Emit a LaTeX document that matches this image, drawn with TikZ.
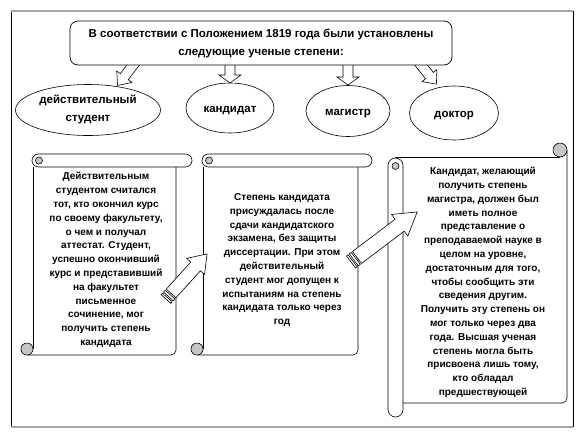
\documentclass[tikz,border=0pt]{standalone}
\usepackage{fontspec}
\setmainfont{Liberation Sans}
\usetikzlibrary{shapes.geometric}
\colorlet{curlgray}{gray!45}
\tikzset{
  scrl/.style={draw=black, line width=0.6pt},
  arrsty/.style={draw=black, fill=white, line width=0.6pt, line join=miter},
  oval/.style={ellipse, draw=black, line width=0.6pt, fill=white, inner sep=0pt},
  ovaltext/.style={align=center, inner sep=0pt, font=\fontsize{11.5}{18}\selectfont\bfseries},
  scrolltext/.style={align=center, inner sep=0pt, font=\fontsize{10}{13.8}\selectfont\bfseries},
  titlebox/.style={draw=black, line width=0.7pt, fill=white, rounded corners=8pt, align=center,
    font=\fontsize{11.5}{18}\selectfont\bfseries}
}
\newcommand{\myvscroll}[6]{% xL xR xRR yT yRb yB
  \fill[white] (#1,#5) rectangle (#2,#6);
  \draw[scrl] (#1,#5) -- (#1,{#6-6});
  \draw[scrl,rounded corners=5pt] ({#1-6},#6) -- (#2,#6) -- (#2,#5);
  \draw[scrl,fill=white,rounded corners=6.5pt] ({#1-1},#4) rectangle (#3,#5);
  \draw[scrl,fill=curlgray] ({#1+6},{(#4+#5)/2}) circle[radius=3.5];
  \draw[scrl,fill=curlgray] ({#1-6},{#6-6}) circle[radius=6];
}
\newcommand{\myblockarr}[7]{% tailx taily angle length shaftw headw headlen
  \begin{scope}[shift={(#1,#2)},rotate=#3]
    \draw[arrsty] (0,-#5) -- ({#4-#7},-#5) -- ({#4-#7},-#6) -- (#4,0) -- ({#4-#7},#6) -- ({#4-#7},#5) -- (0,#5) -- cycle;
  \end{scope}}
\newcommand{\mystripedarr}[7]{%
  \begin{scope}[shift={(#1,#2)},rotate=#3]
    \draw[arrsty] (0,-#5) rectangle (2,#5);
    \draw[arrsty] (3.5,-#5) rectangle (6,#5);
    \draw[arrsty] (7.5,-#5) -- ({#4-#7},-#5) -- ({#4-#7},-#6) -- (#4,0) -- ({#4-#7},#6) -- ({#4-#7},#5) -- (7.5,#5) -- cycle;
  \end{scope}}
\begin{document}
\begin{tikzpicture}[x=1pt,y=-1pt]
\useasboundingbox (0,0) rectangle (586,440);
\fill[white] (0,0) rectangle (586,440);
% outer frame
\draw[black, line width=0.6pt] (11,11) -- (11,427);
\draw[black, line width=0.6pt] (573,11) -- (573,427);
\draw[gray!70, line width=1.4pt] (11,11) -- (573,11);
\draw[gray!70, line width=1.4pt] (11,427) -- (573,427);

% ellipses
\node[oval, minimum width=145pt, minimum height=51pt] (e1) at (88,110) {};
\node[oval, minimum width=88pt, minimum height=50pt] (e2) at (230,108) {};
\node[oval, minimum width=84pt, minimum height=51pt] (e3) at (348,111) {};
\node[oval, minimum width=89pt, minimum height=54pt] (e4) at (454,113) {};
\node[ovaltext] (l1) at (88,109) {действительный\\студент};
\node[ovaltext] (l2) at (230,111) {кандидат};
\node[ovaltext] (l3) at (348,114) {магистр};
\node[ovaltext] (l4) at (454,116) {доктор};

% hollow arrows from title box
\myblockarr{137}{60}{-127.3}{32}{5}{9.5}{11}
\myblockarr{230}{60}{-90}{23}{5}{11}{8}
\myblockarr{348}{60}{-90}{25}{5}{11}{8}
\myblockarr{417}{60}{-51.3}{31}{5}{9.5}{11}

% title box
\node[titlebox, minimum width=382pt, minimum height=44pt] (title) at (261,43)
  {В соответствии с Положением 1819 года были установлены\\следующие ученые степени:};

% scroll 1
\myvscroll{33}{176}{192}{154}{167}{355}
\node[scrolltext] (t1) at (106,260) {Действительным\\студентом считался\\тот, кто окончил курс\\по своему факультету,\\о чем и получал\\аттестат. Студент,\\успешно окончивший\\курс и представивший\\на факультет\\письменное\\сочинение, мог\\получить степень\\кандидата};

% scroll 2
\myvscroll{203}{358}{372}{154}{167}{355}
\node[scrolltext] (t2) at (282,260) {Степень кандидата\\присуждалась после\\сдачи кандидатского\\экзамена, без защиты\\диссертации. При этом\\действительный\\студент мог допущен к\\испытаниям на степень\\кандидата только через\\год};

% scroll 3 (horizontal scroll)
\fill[white] (395,157) rectangle (567,403);
\draw[scrl, rounded corners=5pt] (403,403) -- (567,403) -- (567,150);
\draw[scrl] (395,157) -- (560,157);
\draw[scrl, fill=white, rounded corners=7.5pt] (388,158) rectangle (403,417);
\draw[scrl, fill=curlgray] (395.5,166) circle[radius=3.5];
\draw[scrl, fill=curlgray] (560,150) circle[radius=7];
\node[scrolltext] (t3) at (483,282.5) {Кандидат, желающий\\получить степень\\магистра, должен был\\иметь полное\\представление о\\преподаваемой науке в\\целом на уровне,\\достаточным для того,\\чтобы сообщить эти\\сведения другим.\\Получить эту степень он\\мог только через два\\года. Высшая ученая\\степень могла быть\\присвоена лишь тому,\\кто обладал\\предшествующей};

% striped arrows between scrolls
\mystripedarr{166}{299}{47.7}{61}{6.5}{12}{17}
\mystripedarr{351}{262}{37.1}{83}{7.5}{13.5}{22}
\end{tikzpicture}
\end{document}
